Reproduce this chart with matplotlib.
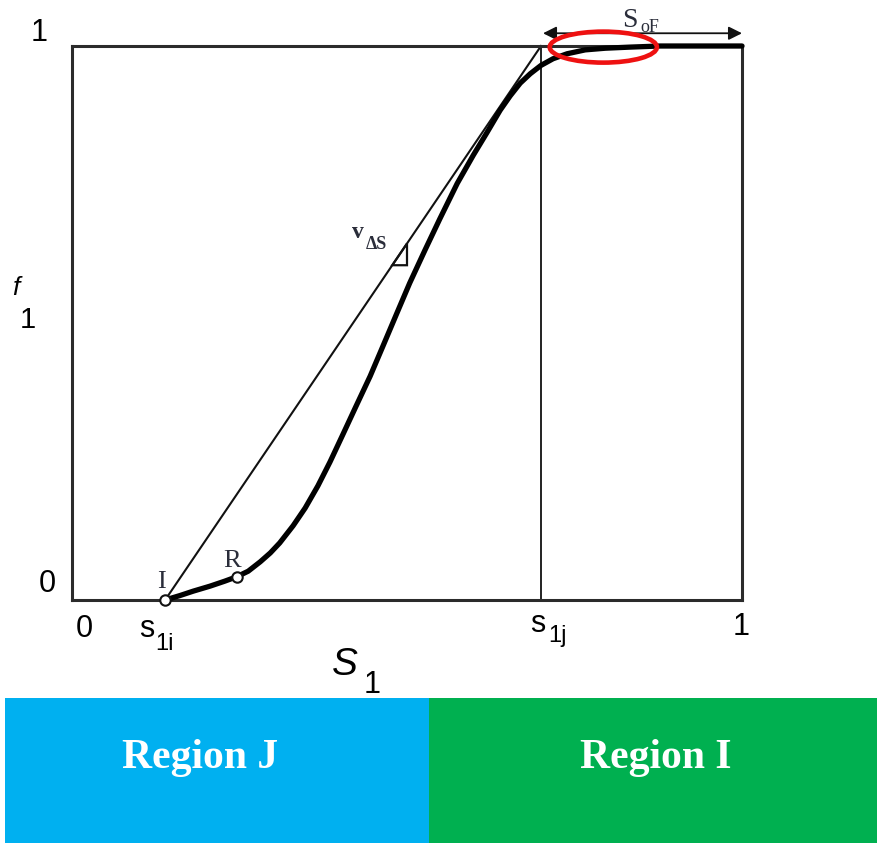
import matplotlib
matplotlib.use("Agg")
import matplotlib.pyplot as plt
from matplotlib.patches import Ellipse, Rectangle, Polygon

# Fractional-flow curve f1(S1), read along the drawn S-curve
s1 = [0.139, 0.161, 0.181, 0.206, 0.228, 0.246, 0.263, 0.281, 0.296, 0.310,
      0.330, 0.348, 0.367, 0.385, 0.404, 0.424, 0.445, 0.464, 0.485, 0.504,
      0.527, 0.549, 0.575, 0.599, 0.619, 0.639, 0.654, 0.669, 0.684, 0.700,
      0.718, 0.739, 0.766, 0.796, 0.833, 0.878, 1.000]
f1 = [0.000, 0.008, 0.016, 0.025, 0.034, 0.042, 0.052, 0.069, 0.085, 0.103,
      0.134, 0.166, 0.206, 0.249, 0.298, 0.350, 0.404, 0.458, 0.518, 0.572,
      0.632, 0.688, 0.752, 0.803, 0.843, 0.884, 0.910, 0.933, 0.950, 0.965,
      0.977, 0.986, 0.993, 0.996, 0.998, 1.000, 1.000]

s1i = 0.139          # injection saturation (point I)
s1j = 0.700          # shock-front saturation
point_R = (0.246, 0.042)
tri_s = [0.478, 0.500]   # base of the right-angle marker on the tangent
sof_span = [0.703, 1.000]
region_names = ["Region J", "Region I"]
region_colors = ["#00B0F0", "#00B050"]

W, H = 878, 844
fig = plt.figure(figsize=(W / 100, H / 100), dpi=100)
fig.patch.set_facecolor("white")

SANS = "Liberation Sans"
SERIF = "Liberation Serif"


def put(x, y, s, **kw):
    """Place text at pixel position (x from left, y from top)."""
    kw.setdefault("ha", "center")
    kw.setdefault("va", "baseline")
    return fig.text(x / W, 1 - y / H, s, **kw)


ax = fig.add_axes([72 / W, 1 - 600 / H, 670 / W, 554 / H])
ax.set_xlim(0, 1)
ax.set_ylim(0, 1)
ax.set_xticks([])
ax.set_yticks([])
for sp in ax.spines.values():
    sp.set_linewidth(2.2)
    sp.set_color("#2b2b2b")

# tangent from I to (s1j, 1) and the vertical at s1j
ax.plot([s1i, s1j], [0, 1], color="#111111", lw=1.5, clip_on=False, zorder=2)
ax.plot([s1j, s1j], [0, 1], color="#222222", lw=1.4, clip_on=False, zorder=2)

# fractional-flow curve
ax.plot(s1, f1, color="black", lw=3.8, solid_joinstyle="round",
        solid_capstyle="round", clip_on=False, zorder=3)

# points I and R
ax.plot([s1i, point_R[0]], [0, point_R[1]], "o", mfc="white", mec="#111111",
        ms=7.5, mew=1.5, clip_on=False, zorder=5)

# right-angle marker on the tangent
slope = 1.0 / (s1j - s1i)
fa = (tri_s[0] - s1i) * slope
fb = (tri_s[1] - s1i) * slope
ax.add_patch(Polygon([(tri_s[0], fa), (tri_s[1], fa), (tri_s[1], fb)],
                     closed=True, fill=False, ec="#111111", lw=1.6, zorder=4))

# highlighted plateau
ax.add_patch(Ellipse((0.793, 0.998), 0.16, 0.056, fill=False, ec="#EE1111",
                     lw=3.3, clip_on=False, zorder=6))

# S_oF span arrow
ax.annotate("", xy=(sof_span[1], 1.023), xytext=(sof_span[0], 1.023),
            arrowprops=dict(arrowstyle="<|-|>", lw=1.3, color="#111111",
                            mutation_scale=20, shrinkA=0, shrinkB=0),
            annotation_clip=False)

# axis values
put(84, 637, "0", family=SANS, fontsize=22)
put(741, 635, "1", family=SANS, fontsize=22)
put(39, 41, "1", family=SANS, fontsize=22)
put(47, 592, "0", family=SANS, fontsize=22)
put(147, 637, "s", family=SANS, fontsize=22)
put(155, 650, "1i", family=SANS, fontsize=17, ha="left")
put(538, 632, "s", family=SANS, fontsize=22)
put(548, 642, "1j", family=SANS, fontsize=17, ha="left")

# axis titles
put(345, 675, "S", family=SANS, fontsize=28, style="italic")
put(372, 693, "1", family=SANS, fontsize=22)
put(16, 295, "f", family=SANS, fontsize=19, style="italic")
put(28, 328, "1", family=SANS, fontsize=21)

# point and span labels
TXT = "#2a2d3a"
put(161, 588, "I", family=SERIF, fontsize=19, color=TXT)
put(232, 567, "R", family=SERIF, fontsize=19, color=TXT)
put(358, 238, "v", family=SERIF, fontsize=17, weight="bold", color=TXT)
put(366, 249, "ΔS", family=SERIF, fontsize=13, weight="bold", color=TXT,
    ha="left")
put(630, 27, "S", family=SERIF, fontsize=20, color=TXT)
put(640, 32, "oF", family=SERIF, fontsize=13, color=TXT, ha="left")

# region bands
edges = [5, 429, 878]
for i, (name, col) in enumerate(zip(region_names, region_colors)):
    x0, x1 = edges[i], edges[i + 1]
    fig.add_artist(Rectangle((x0 / W, 1 - 843 / H), (x1 - x0) / W, 145 / H,
                             transform=fig.transFigure, facecolor=col,
                             edgecolor="none"))
    put((x0 + x1) / 2 - 17 + 19 * i, 768, name, family=SERIF, fontsize=30,
        weight="bold", color="white")

fig.savefig("out.png", dpi=100, facecolor="white")
